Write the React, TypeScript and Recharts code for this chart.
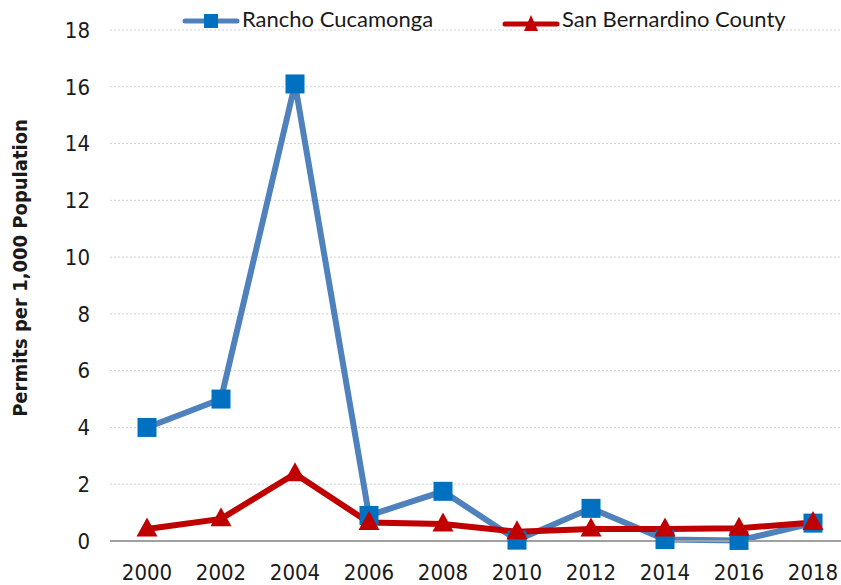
import React from 'react';
import {
  LineChart,
  Line,
  XAxis,
  YAxis,
  CartesianGrid,
} from 'recharts';

// Data
const years = ['2000', '2002', '2004', '2006', '2008', '2010', '2012', '2014', '2016', '2018'];
const ranchoCucamonga = [4.0, 5.0, 16.1, 0.9, 1.75, 0.03, 1.15, 0.05, 0.02, 0.63];
const sanBernardino = [0.42, 0.78, 2.37, 0.65, 0.6, 0.33, 0.42, 0.42, 0.45, 0.65];
const yTicks = [0, 2, 4, 6, 8, 10, 12, 14, 16, 18];

const data = years.map((year, i) => ({
  year,
  rancho: ranchoCucamonga[i],
  sanBern: sanBernardino[i],
}));

const BLUE_LINE = '#4f81bd';
const BLUE_MARK = '#0070c0';
const RED = '#c00000';
const NARROW = "'Liberation Sans Narrow', 'Arial Narrow', 'DejaVu Sans Condensed', sans-serif";
const LEGEND_FONT = "Lato, 'Liberation Sans', sans-serif";

const SquareDot = (props: any) => {
  const { cx, cy } = props;
  if (cx == null || cy == null) return null;
  const s = 19;
  return <rect x={cx - s / 2} y={cy - s / 2} width={s} height={s} fill={BLUE_MARK} />;
};

const TriangleDot = (props: any) => {
  const { cx, cy } = props;
  if (cx == null || cy == null) return null;
  const w = 21;
  const h = 19;
  return (
    <path
      d={`M${cx},${cy - h / 2 - 2}L${cx + w / 2},${cy + h / 2 - 2}L${cx - w / 2},${cy + h / 2 - 2}Z`}
      fill={RED}
    />
  );
};

// x tick drawn with a fixed baseline so its position doesn't depend on the font
const YearTick = (props: any) => {
  const { x, y, payload } = props;
  return (
    <text x={x} y={y + 39} textAnchor="middle" fill="#1a1a1a" fontSize={22} fontFamily={NARROW}>
      {payload.value}
    </text>
  );
};

// legend drawn as an overlay so it doesn't push the plot down
const ChartLegend = () => (
  <div style={{ position: 'absolute', left: 0, top: 4, width: 841, height: 30, fontFamily: LEGEND_FONT, fontSize: 22, color: '#1a1a1a' }}>
    <svg style={{ position: 'absolute', left: 182, top: 6 }} width={58} height={22}>
      <line x1={3} y1={11} x2={55} y2={11} stroke={BLUE_LINE} strokeWidth={5} strokeLinecap="round" />
      <rect x={22} y={4} width={14} height={14} fill={BLUE_MARK} />
    </svg>
    <span style={{ position: 'absolute', left: 242, top: 1, whiteSpace: 'nowrap' }}>Rancho Cucamonga</span>
    <svg style={{ position: 'absolute', left: 502, top: 6 }} width={58} height={22}>
      <line x1={3} y1={14} x2={55} y2={14} stroke={RED} strokeWidth={5} strokeLinecap="round" />
      <path d="M29,5L36,21L22,21Z" fill={RED} />
    </svg>
    <span style={{ position: 'absolute', left: 562, top: 1, whiteSpace: 'nowrap' }}>San Bernardino County</span>
  </div>
);

const App: React.FC = () => {
  return (
    <div style={{ position: 'absolute', left: 0, top: 0, width: 841, height: 585, overflow: 'hidden', background: '#fff' }}>
      <LineChart
        width={850}
        height={585}
        data={data}
        margin={{ top: 30, right: 0, left: 50, bottom: 4 }}
      >
        <CartesianGrid vertical={false} stroke="#d0d0d0" strokeDasharray="2 2" />
        <XAxis
          dataKey="year"
          height={40}
          padding={{ left: 37, right: 37 }}
          tickLine={false}
          tickSize={0}
          tickMargin={0}
          axisLine={{ stroke: '#a0a0a0', strokeWidth: 2 }}
          tick={<YearTick />}
          interval={0}
        />
        <YAxis
          width={60}
          domain={[0, 18]}
          ticks={yTicks}
          axisLine={false}
          tickLine={false}
          tickSize={0}
          tickMargin={20}
          tick={{ fill: '#1a1a1a', fontSize: 22, fontFamily: NARROW }}
          interval={0}
        />
        <Line
          type="linear"
          dataKey="rancho"
          name="Rancho Cucamonga"
          stroke={BLUE_LINE}
          strokeWidth={6}
          dot={<SquareDot />}
          activeDot={false}
          isAnimationActive={false}
        />
        <Line
          type="linear"
          dataKey="sanBern"
          name="San Bernardino County"
          stroke={RED}
          strokeWidth={6}
          dot={<TriangleDot />}
          activeDot={false}
          isAnimationActive={false}
        />
        <text
          x={20}
          y={268}
          transform="rotate(-90, 20, 268)"
          textAnchor="middle"
          dominantBaseline="central"
          fontFamily={NARROW}
          fontWeight="bold"
          fontSize={20}
          fill="#1a1a1a"
        >
          Permits per 1,000 Population
        </text>
      </LineChart>
      <ChartLegend />
    </div>
  );
};

export default App;
